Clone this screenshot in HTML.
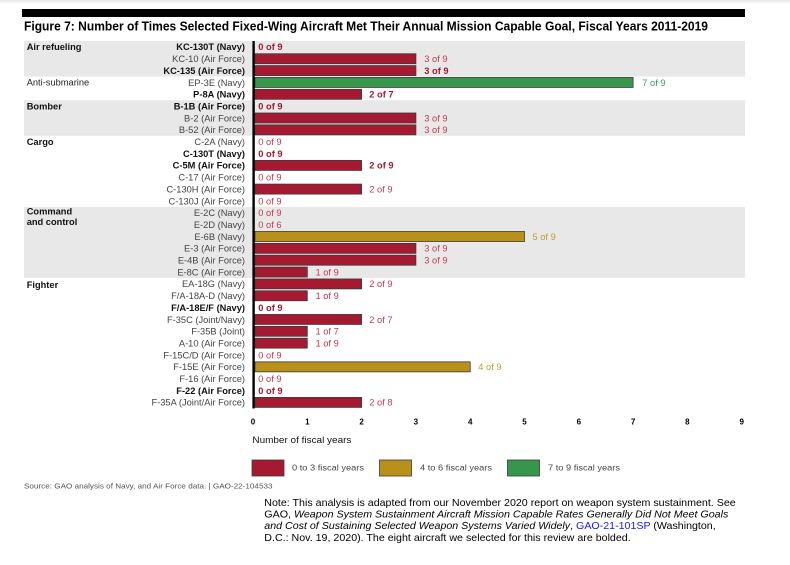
<!DOCTYPE html>
<html>
<head>
<meta charset="utf-8">
<style>
  html,body{margin:0;padding:0;background:#fff;}
  svg{display:block;font-family:"Liberation Sans",Arial,sans-serif;}
</style>
</head>
<body>
<svg width="790" height="565" viewBox="0 0 790 565" xmlns="http://www.w3.org/2000/svg">
  <defs>
    <linearGradient id="topg" x1="0" y1="0" x2="0" y2="1">
      <stop offset="0" stop-color="#e6e6e6"/>
      <stop offset="1" stop-color="#ffffff"/>
    </linearGradient>
  </defs>
  <rect x="0" y="0" width="790" height="565" fill="#fff"/>
  <rect x="0" y="0" width="790" height="4" fill="url(#topg)"/>

  <!-- top black bar -->
  <rect x="22" y="9" width="723" height="8" fill="#000"/>
  <!-- title -->
  <text x="24" y="30.5" font-size="12.5" font-weight="bold" fill="#000" textLength="684" lengthAdjust="spacingAndGlyphs">Figure 7: Number of Times Selected Fixed-Wing Aircraft Met Their Annual Mission Capable Goal, Fiscal Years 2011-2019</text>

  <!-- gray bands -->
  <rect x="24" y="41" width="721" height="35.55" fill="#e8e8e8"/>
  <rect x="24" y="100.25" width="721" height="35.55" fill="#e8e8e8"/>
  <rect x="24" y="206.9" width="721" height="71.1" fill="#e8e8e8"/>

  <!-- category labels -->
  <g font-size="9.3" font-weight="bold" fill="#111">
    <text x="26.7" y="50.2">Air refueling</text>
    <text x="26.7" y="85.7" font-weight="normal" fill="#222">Anti-submarine</text>
    <text x="26.7" y="109.4">Bomber</text>
    <text x="26.7" y="145">Cargo</text>
    <text x="26.7" y="214.3">Command</text>
    <text x="26.7" y="225">and control</text>
    <text x="26.7" y="287.9">Fighter</text>
  </g>

  <!-- aircraft labels -->
  <g font-size="9.3" text-anchor="end" fill="#444">
    <text x="245" y="50.2" font-weight="bold" fill="#111">KC-130T (Navy)</text>
    <text x="245" y="62.05">KC-10 (Air Force)</text>
    <text x="245" y="73.9" font-weight="bold" fill="#111">KC-135 (Air Force)</text>
    <text x="245" y="85.75">EP-3E (Navy)</text>
    <text x="245" y="97.6" font-weight="bold" fill="#111">P-8A (Navy)</text>
    <text x="245" y="109.45" font-weight="bold" fill="#111">B-1B (Air Force)</text>
    <text x="245" y="121.3">B-2 (Air Force)</text>
    <text x="245" y="133.15">B-52 (Air Force)</text>
    <text x="245" y="145">C-2A (Navy)</text>
    <text x="245" y="156.85" font-weight="bold" fill="#111">C-130T (Navy)</text>
    <text x="245" y="168.7" font-weight="bold" fill="#111">C-5M (Air Force)</text>
    <text x="245" y="180.55">C-17 (Air Force)</text>
    <text x="245" y="192.4">C-130H (Air Force)</text>
    <text x="245" y="204.25">C-130J (Air Force)</text>
    <text x="245" y="216.1">E-2C (Navy)</text>
    <text x="245" y="227.95">E-2D (Navy)</text>
    <text x="245" y="239.8">E-6B (Navy)</text>
    <text x="245" y="251.65">E-3 (Air Force)</text>
    <text x="245" y="263.5">E-4B (Air Force)</text>
    <text x="245" y="275.35">E-8C (Air Force)</text>
    <text x="245" y="287.2">EA-18G (Navy)</text>
    <text x="245" y="299.05">F/A-18A-D (Navy)</text>
    <text x="245" y="310.9" font-weight="bold" fill="#111">F/A-18E/F (Navy)</text>
    <text x="245" y="322.75">F-35C (Joint/Navy)</text>
    <text x="245" y="334.6">F-35B (Joint)</text>
    <text x="245" y="346.45">A-10 (Air Force)</text>
    <text x="245" y="358.3">F-15C/D (Air Force)</text>
    <text x="245" y="370.15">F-15E (Air Force)</text>
    <text x="245" y="382">F-16 (Air Force)</text>
    <text x="245" y="393.85" font-weight="bold" fill="#111">F-22 (Air Force)</text>
    <text x="245" y="405.7">F-35A (Joint/Air Force)</text>
  </g>

  <!-- bars -->
  <g stroke="#3a3a3a" stroke-width="0.8">
    <!-- KC-10 3 -->
    <rect x="255" y="53.75" width="160.9" height="10" fill="#a51a30"/>
    <!-- KC-135 3 -->
    <rect x="255" y="65.6" width="160.9" height="10" fill="#a51a30"/>
    <!-- EP-3E 7 -->
    <rect x="255" y="77.45" width="378.1" height="10" fill="#36964a"/>
    <!-- P-8A 2 -->
    <rect x="255" y="89.3" width="106.6" height="10" fill="#a51a30"/>
    <!-- B-2 3 -->
    <rect x="255" y="113" width="160.9" height="10" fill="#a51a30"/>
    <!-- B-52 3 -->
    <rect x="255" y="124.85" width="160.9" height="10" fill="#a51a30"/>
    <!-- C-5M 2 -->
    <rect x="255" y="160.4" width="106.6" height="10" fill="#a51a30"/>
    <!-- C-130H 2 -->
    <rect x="255" y="184.1" width="106.6" height="10" fill="#a51a30"/>
    <!-- E-6B 5 -->
    <rect x="255" y="231.5" width="269.5" height="10" fill="#b8901a"/>
    <!-- E-3 3 -->
    <rect x="255" y="243.35" width="160.9" height="10" fill="#a51a30"/>
    <!-- E-4B 3 -->
    <rect x="255" y="255.2" width="160.9" height="10" fill="#a51a30"/>
    <!-- E-8C 1 -->
    <rect x="255" y="267.05" width="52.3" height="10" fill="#a51a30"/>
    <!-- EA-18G 2 -->
    <rect x="255" y="278.9" width="106.6" height="10" fill="#a51a30"/>
    <!-- F/A-18A-D 1 -->
    <rect x="255" y="290.75" width="52.3" height="10" fill="#a51a30"/>
    <!-- F-35C 2 -->
    <rect x="255" y="314.45" width="106.6" height="10" fill="#a51a30"/>
    <!-- F-35B 1 -->
    <rect x="255" y="326.3" width="52.3" height="10" fill="#a51a30"/>
    <!-- A-10 1 -->
    <rect x="255" y="338.15" width="52.3" height="10" fill="#a51a30"/>
    <!-- F-15E 4 -->
    <rect x="255" y="361.85" width="215.2" height="10" fill="#b8901a"/>
    <!-- F-35A 2 -->
    <rect x="255" y="397.4" width="106.6" height="10" fill="#a51a30"/>
  </g>

  <!-- axis line -->
  <rect x="252.4" y="41" width="2.4" height="367.5" fill="#000"/>

  <!-- value labels -->
  <g font-size="9.3" fill="#c23a50">
    <text x="258.3" y="50.2" font-weight="bold" fill="#9e1b32">0 of 9</text>
    <text x="424.3" y="62.05">3 of 9</text>
    <text x="424.3" y="73.9" font-weight="bold" fill="#9e1b32">3 of 9</text>
    <text x="642.3" y="85.75" fill="#3f9d55">7 of 9</text>
    <text x="369.3" y="97.6" font-weight="bold" fill="#9e1b32">2 of 7</text>
    <text x="258.3" y="109.45" font-weight="bold" fill="#9e1b32">0 of 9</text>
    <text x="424.3" y="121.3">3 of 9</text>
    <text x="424.3" y="133.15">3 of 9</text>
    <text x="258.3" y="145">0 of 9</text>
    <text x="258.3" y="156.85" font-weight="bold" fill="#9e1b32">0 of 9</text>
    <text x="369.3" y="168.7" font-weight="bold" fill="#9e1b32">2 of 9</text>
    <text x="258.3" y="180.55">0 of 9</text>
    <text x="369.3" y="192.4">2 of 9</text>
    <text x="258.3" y="204.25">0 of 9</text>
    <text x="258.3" y="216.1">0 of 9</text>
    <text x="258.3" y="227.95">0 of 6</text>
    <text x="532.5" y="239.8" fill="#c49a2c">5 of 9</text>
    <text x="424.3" y="251.65">3 of 9</text>
    <text x="424.3" y="263.5">3 of 9</text>
    <text x="315.5" y="275.35">1 of 9</text>
    <text x="369.3" y="287.2">2 of 9</text>
    <text x="315.5" y="299.05">1 of 9</text>
    <text x="258.3" y="310.9" font-weight="bold" fill="#9e1b32">0 of 9</text>
    <text x="369.3" y="322.75">2 of 7</text>
    <text x="315.5" y="334.6">1 of 7</text>
    <text x="315.5" y="346.45">1 of 9</text>
    <text x="258.3" y="358.3">0 of 9</text>
    <text x="478.3" y="370.15" fill="#c49a2c">4 of 9</text>
    <text x="258.3" y="382">0 of 9</text>
    <text x="258.3" y="393.85" font-weight="bold" fill="#9e1b32">0 of 9</text>
    <text x="369.3" y="405.7">2 of 8</text>
  </g>

  <!-- tick labels -->
  <g font-size="8" font-weight="bold" fill="#000" text-anchor="middle">
    <text x="253" y="424.6">0</text>
    <text x="307.3" y="424.6">1</text>
    <text x="361.6" y="424.6">2</text>
    <text x="415.9" y="424.6">3</text>
    <text x="470.2" y="424.6">4</text>
    <text x="524.5" y="424.6">5</text>
    <text x="578.8" y="424.6">6</text>
    <text x="633.1" y="424.6">7</text>
    <text x="687.4" y="424.6">8</text>
    <text x="741.7" y="424.6">9</text>
  </g>

  <text x="252.4" y="442.8" font-size="9" fill="#111" textLength="99" lengthAdjust="spacingAndGlyphs">Number of fiscal years</text>

  <!-- legend -->
  <rect x="252" y="460" width="32" height="16" fill="#a51a30" stroke="#3a3a3a" stroke-width="0.8"/>
  <text x="292" y="470.5" font-size="8.6" fill="#444" textLength="72" lengthAdjust="spacingAndGlyphs">0 to 3 fiscal years</text>
  <rect x="379.5" y="460" width="32" height="16" fill="#b8901a" stroke="#3a3a3a" stroke-width="0.8"/>
  <text x="420" y="470.5" font-size="8.6" fill="#444" textLength="72" lengthAdjust="spacingAndGlyphs">4 to 6 fiscal years</text>
  <rect x="507.5" y="460" width="32" height="16" fill="#36964a" stroke="#3a3a3a" stroke-width="0.8"/>
  <text x="548" y="470.5" font-size="8.6" fill="#444" textLength="72" lengthAdjust="spacingAndGlyphs">7 to 9 fiscal years</text>

  <!-- source -->
  <text x="24" y="488.7" font-size="7.5" fill="#555" textLength="248.5" lengthAdjust="spacingAndGlyphs">Source: GAO analysis of Navy, and Air Force data.  |  GAO-22-104533</text>

  <!-- note -->
  <g font-size="10.4" fill="#000">
    <text x="264.3" y="506.1" textLength="471.4" lengthAdjust="spacingAndGlyphs">Note: This analysis is adapted from our November 2020 report on weapon system sustainment. See</text>
    <text x="264.3" y="517.6" textLength="464" lengthAdjust="spacingAndGlyphs">GAO, <tspan font-style="italic">Weapon System Sustainment Aircraft Mission Capable Rates Generally Did Not Meet Goals</tspan></text>
    <text x="264.3" y="529.2" textLength="451.4" lengthAdjust="spacingAndGlyphs"><tspan font-style="italic">and Cost of Sustaining Selected Weapon Systems Varied Widely</tspan>, <tspan fill="#1a1aee">GAO-21-101SP</tspan> (Washington,</text>
    <text x="264.3" y="540.9" textLength="366.4" lengthAdjust="spacingAndGlyphs">D.C.: Nov. 19, 2020). The eight aircraft we selected for this review are bolded.</text>
  </g>
</svg>
</body>
</html>
